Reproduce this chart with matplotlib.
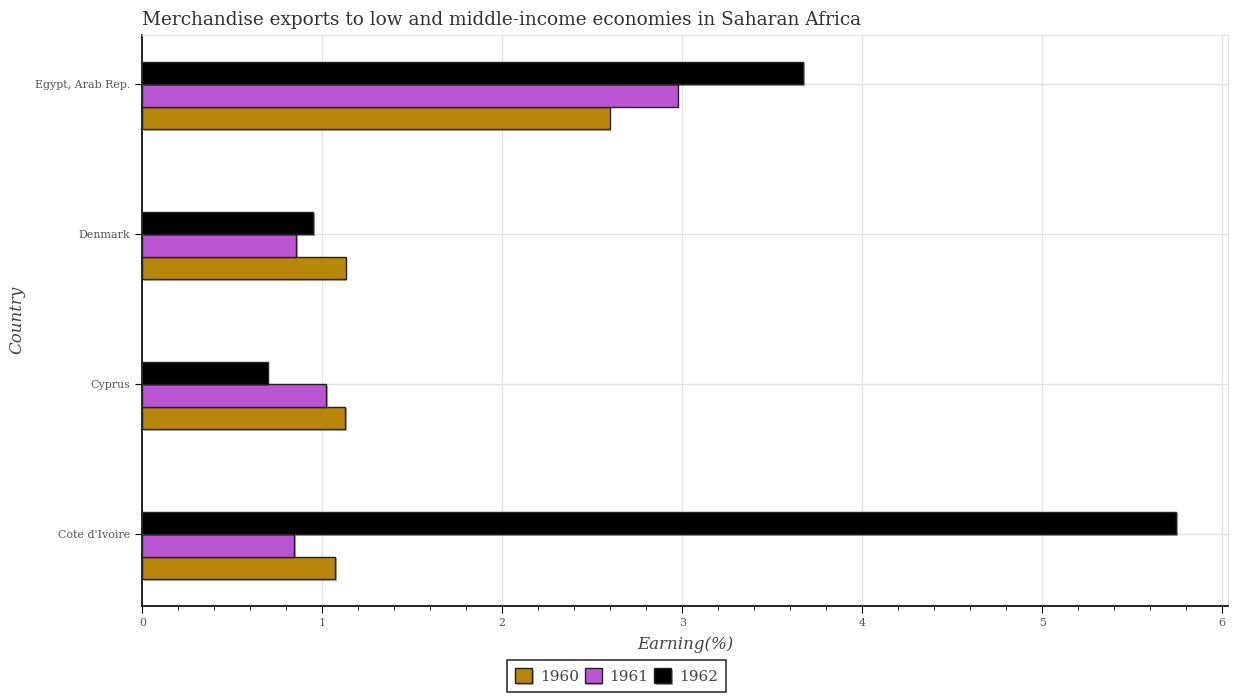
import matplotlib.pyplot as plt
import matplotlib.patheffects as pe
from matplotlib.ticker import MultipleLocator
import numpy as np

# data
paises = ["Cote d'Ivoire", "Cyprus", "Denmark", "Egypt, Arab Rep."]
anos = ["1960", "1961", "1962"]
v1960 = [1.072, 1.126, 1.129, 2.596]
v1961 = [0.843, 1.022, 0.854, 2.974]
v1962 = [5.745, 0.697, 0.949, 3.672]
cores = ["#B8860B", "#BA55D3", "#000000"]

plt.rcParams['font.family'] = ['DejaVu Serif']

fig = plt.figure(figsize=(12.33, 7), dpi=100)
ax = fig.add_axes([0.1154, 0.1343, 0.8803, 0.8161])

y = np.arange(len(paises))
h = 0.15
sombra = [pe.SimplePatchShadow(offset=(1.2, -1.2), alpha=0.35), pe.Normal()]
for i, (vals, cor, ano) in enumerate(zip([v1960, v1961, v1962], cores, anos)):
    off = (i - 2) * h
    ax.barh(y + off, vals, height=h, align='edge', color=cor, edgecolor='#222222',
            linewidth=1, label=ano, path_effects=sombra, zorder=3)

ax.set_yticks(y)
ax.set_yticklabels(paises)
ax.set_ylim(-0.48, 3.33)
ax.set_xlim(0, 6.03)
ax.xaxis.set_major_locator(MultipleLocator(1))
ax.xaxis.set_minor_locator(MultipleLocator(0.2))
ax.grid(True, which='major', color='#e3e3e3', linewidth=1, zorder=0)
ax.set_axisbelow(True)

for s in ['top', 'right']:
    ax.spines[s].set_color('#e3e3e3')
for s in ['left', 'bottom']:
    ax.spines[s].set_color('black')
    ax.spines[s].set_linewidth(1.2)

ax.tick_params(axis='both', which='major', labelsize=7.9, labelcolor='#555555', length=5)
ax.tick_params(axis='x', which='minor', length=3)

ax.set_xlabel("Earning(%)", fontsize=12, style='italic', color='#444444', labelpad=6)
ax.set_ylabel("Country", fontsize=12, style='italic', color='#444444')
ax.yaxis.set_label_coords(-0.108, 0.5)

fig.text(0.1154, 0.971, "Merchandise exports to low and middle-income economies in Saharan Africa",
         fontsize=13.3, color='#333333', va='center', ha='left')

leg = fig.legend(loc='lower center', bbox_to_anchor=(0.5, 0.0), ncol=3, fontsize=11,
                 frameon=True, fancybox=False, edgecolor='black', handlelength=1.1,
                 handleheight=1.1, handletextpad=0.5, columnspacing=0.4, borderpad=0.55)
leg.get_frame().set_linewidth(1.2)
for t in leg.get_texts():
    t.set_color('#444444')

fig.savefig("out.png", dpi=100)
